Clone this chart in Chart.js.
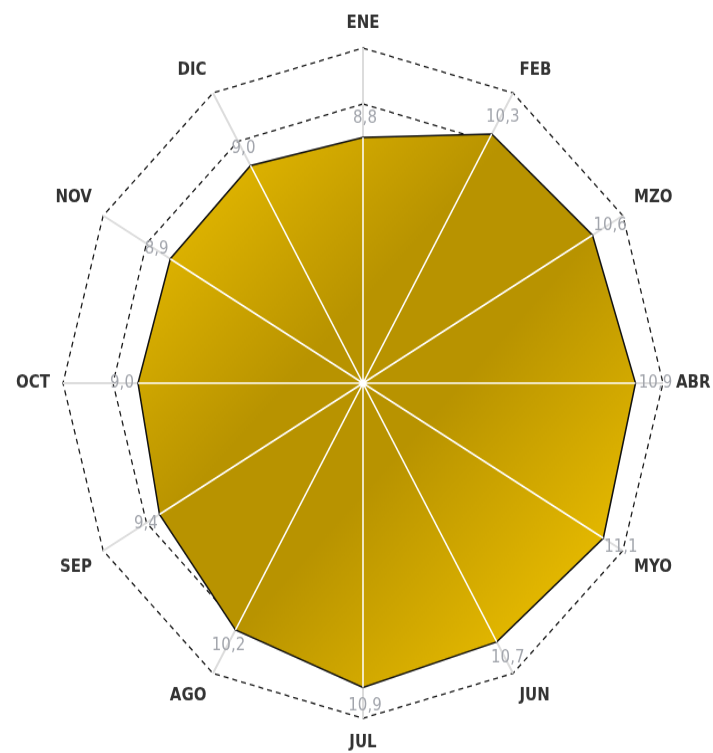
<!DOCTYPE html>
<html>
<head>
<meta charset="utf-8">
<script src="https://cdn.jsdelivr.net/npm/chart.js@4"></script>
<style>
  html, body { margin: 0; padding: 0; background: #fff; }
  body { height: 753px; }
  #wrap { width: 713px; height: 674px; transform: scaleY(1.117); transform-origin: 0 0; }
</style>
</head>
<body>
<div id="wrap"><canvas id="myChart" width="713" height="674"></canvas></div>
<script>
var months = ['ENE', 'FEB', 'MZO', 'ABR', 'MYO', 'JUN', 'JUL', 'AGO', 'SEP', 'OCT', 'NOV', 'DIC'];
var values = [8.8, 10.3, 10.6, 10.9, 11.1, 10.7, 10.9, 10.2, 9.4, 9.0, 8.9, 9.0];
var scaleMax = 12;
var scaleStep = 10;

// white spokes over the fill, centre dot and the value labels
var valueLabels = {
  id: 'valueLabels',
  afterDatasetsDraw: function(chart) {
    var ctx = chart.ctx;
    var r = chart.scales.r;
    var meta = chart.getDatasetMeta(0);
    ctx.save();
    ctx.strokeStyle = '#ffffff';
    ctx.lineWidth = 1.5;
    meta.data.forEach(function(pt) {
      ctx.beginPath();
      ctx.moveTo(r.xCenter, r.yCenter);
      ctx.lineTo(pt.x, pt.y);
      ctx.stroke();
    });
    ctx.fillStyle = '#ffffff';
    ctx.beginPath();
    ctx.arc(r.xCenter, r.yCenter, 3.5, 0, Math.PI * 2);
    ctx.fill();

    ctx.font = '15px "DejaVu Sans"';
    ctx.fillStyle = '#a2a5ac';
    ctx.textAlign = 'center';
    ctx.textBaseline = 'middle';
    meta.data.forEach(function(pt, i) {
      var a = r.getIndexAngle(i);
      var x = pt.x + 18 * Math.sin(a) + 2;
      var y = pt.y - 17 * Math.cos(a);
      ctx.fillText(values[i].toFixed(1).replace('.', ','), x, y);
    });
    ctx.restore();
  }
};

var ctx = document.getElementById('myChart');
var myChart = new Chart(ctx, {
  type: 'radar',
  data: {
    labels: months,
    datasets: [{
      data: values,
      borderColor: '#111111',
      borderWidth: 1.5,
      pointRadius: 0,
      fill: true,
      clip: false,
      backgroundColor: function(context) {
        var chart = context.chart;
        var r = chart.scales.r;
        if (!r || !r.drawingArea) return '#c9a400';
        var d = r.drawingArea;
        var g = chart.ctx.createLinearGradient(r.xCenter - d, r.yCenter - d, r.xCenter + d, r.yCenter + d);
        g.addColorStop(0.12, '#f2c400');
        g.addColorStop(0.44, '#b89300');
        g.addColorStop(0.58, '#b89300');
        g.addColorStop(0.9, '#f2c400');
        return g;
      }
    }]
  },
  options: {
    responsive: false,
    animation: false,
    layout: { padding: { left: 14, right: 0, top: 12, bottom: 0 } },
    plugins: {
      legend: { display: false },
      tooltip: { enabled: false }
    },
    scales: {
      r: {
        min: 0,
        max: scaleMax,
        ticks: { display: false, stepSize: scaleStep },
        grid: { color: '#1a1a1a', lineWidth: 1.3, borderDash: [5, 4] },
        border: { dash: [5, 4] },
        angleLines: { color: '#dcdcdc', lineWidth: 2 },
        pointLabels: {
          padding: 13,
          color: '#333333',
          font: { family: 'DejaVu Sans', size: 15, weight: 'bold' }
        }
      }
    }
  },
  plugins: [valueLabels]
});
</script>
</body>
</html>
